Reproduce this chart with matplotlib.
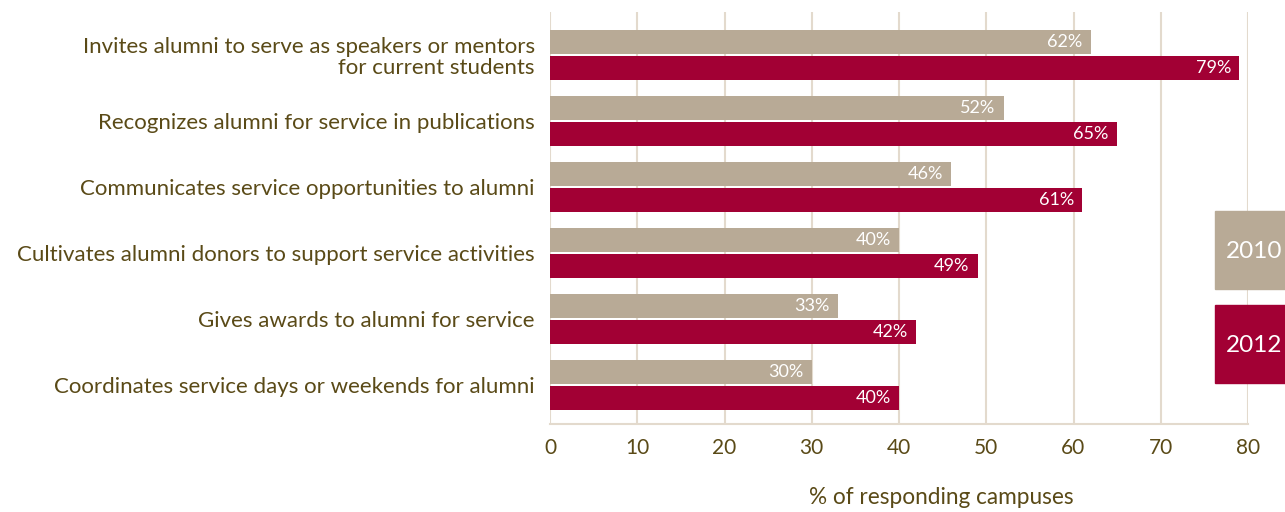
import matplotlib
matplotlib.use("Agg")
import matplotlib.pyplot as plt
from matplotlib.patches import Rectangle

# data
categories = [
    "Invites alumni to serve as speakers or mentors\nfor current students",
    "Recognizes alumni for service in publications",
    "Communicates service opportunities to alumni",
    "Cultivates alumni donors to support service activities",
    "Gives awards to alumni for service",
    "Coordinates service days or weekends for alumni",
]
years = ["2010", "2012"]
vals_2010 = [62, 52, 46, 40, 33, 30]
vals_2012 = [79, 65, 61, 49, 42, 40]
xticks = [0, 10, 20, 30, 40, 50, 60, 70, 80]

beige = "#B8AA96"
crimson = "#A20034"
text_col = "#5A4A17"
grid_col = "#E3DACD"
narrow = ["Liberation Sans Narrow", "Lato", "DejaVu Sans"]
label_font = ["Lato", "DejaVu Sans"]

fig = plt.figure(figsize=(12.85, 5.12), dpi=100)
ax = fig.add_axes([550 / 1285, 1 - 424 / 512, 698 / 1285, 412 / 512])

off = 0.197
h = 0.364
ys = list(range(len(categories)))
b1 = ax.barh([y - off for y in ys], vals_2010, height=h, color=beige, zorder=2)
b2 = ax.barh([y + off for y in ys], vals_2012, height=h, color=crimson, zorder=2)

for bars, vals in [(b1, vals_2010), (b2, vals_2012)]:
    for rect, v in zip(bars, vals):
        ax.annotate(f"{v}%", (v, rect.get_y() + rect.get_height() / 2),
                    xytext=(-6, 0), textcoords="offset points",
                    ha="right", va="center", color="white",
                    fontsize=13, family=narrow, zorder=3)

ax.set_xlim(0, 80)
ax.set_ylim(5.59, -0.652)
ax.set_xticks(xticks)
ax.set_xticklabels([str(t) for t in xticks], family=narrow, fontsize=15, color=text_col)
ax.set_yticks(ys)
ax.set_yticklabels(categories, family=label_font, fontsize=16, color=text_col,
                   linespacing=1.08)
ax.tick_params(axis="both", length=0)
ax.tick_params(axis="x", pad=10)
ax.tick_params(axis="y", pad=11)
ax.grid(axis="x", color=grid_col, linewidth=1.5, zorder=0)
for s in ["top", "right", "left"]:
    ax.spines[s].set_visible(False)
ax.spines["bottom"].set_color(grid_col)
ax.spines["bottom"].set_linewidth(1.5)

fig.text(941 / 1285, 1 - 497 / 512, "% of responding campuses", ha="center",
         va="center", family=label_font, fontsize=16.3, color=text_col)

# year key boxes at the right edge
for i, (yr, col) in enumerate(zip(years, [beige, crimson])):
    top = 211 + i * 94
    fig.add_artist(Rectangle((1215 / 1285, 1 - (top + 78) / 512), 70 / 1285, 78 / 512,
                             transform=fig.transFigure, color=col, zorder=5))
    fig.text(1254 / 1285, 1 - (top + 40) / 512, yr, ha="center", va="center",
             color="white", family=narrow, fontsize=17.5, zorder=6)

fig.savefig("out.png", dpi=100)
